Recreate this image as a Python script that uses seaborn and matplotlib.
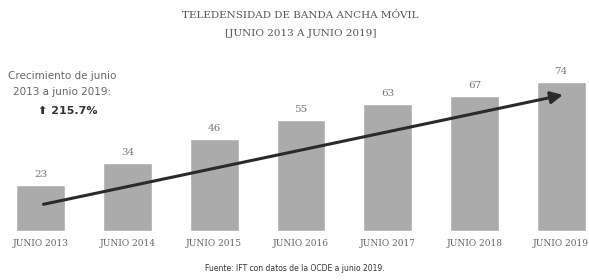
import pandas as pd
import numpy as np
import matplotlib
matplotlib.use("Agg")
import matplotlib.pyplot as plt
import seaborn as sns

# datos
periodos = ["JUNIO 2013", "JUNIO 2014", "JUNIO 2015", "JUNIO 2016",
            "JUNIO 2017", "JUNIO 2018", "JUNIO 2019"]
teledensidad = [23, 34, 46, 55, 63, 67, 74]
tendencia = [13, 68]  # inicio y fin de la flecha
crecimiento = "215.7%"


def main():
    df = pd.DataFrame({"periodo": periodos, "valor": teledensidad})

    sns.set_theme(style="white")
    plt.rcParams["font.family"] = ["DejaVu Sans"]

    fig = plt.figure(figsize=(5.89, 2.80), dpi=100)
    ax = fig.add_axes([0.0, 0.175, 1.0, 0.646])

    sns.barplot(data=df, x="periodo", y="valor", color="#ababab",
                saturation=1, width=0.56, ax=ax)

    ax.set_xlim(-0.47, 6.32)
    ax.set_ylim(0, 90)
    sns.despine(ax=ax, left=True, bottom=True)
    ax.set_yticks([])
    ax.set_xlabel("")
    ax.set_ylabel("")
    ax.tick_params(axis="x", length=0, pad=6, labelsize=6.5, labelcolor="#666666")
    for lbl in ax.get_xticklabels():
        lbl.set_family("DejaVu Serif")

    # etiquetas de valores
    for i, v in enumerate(teledensidad):
        ax.text(i, v + 3, str(v), ha="center", va="bottom",
                fontsize=7.5, color="#777777", family="DejaVu Serif")

    # flecha de tendencia
    ax.annotate("", xy=(6.05, tendencia[1]), xytext=(0, tendencia[0]),
                arrowprops=dict(arrowstyle="-|>,head_length=0.6,head_width=0.3",
                                color="#2a2a2a", lw=2.2))

    # textos
    fig.text(0.51, 0.945, "TELEDENSIDAD DE BANDA ANCHA MÓVIL",
             ha="center", va="center", fontsize=7.5, color="#555555",
             family="DejaVu Serif")
    fig.text(0.51, 0.88, "[JUNIO 2013 A JUNIO 2019]",
             ha="center", va="center", fontsize=7.5, color="#555555",
             family="DejaVu Serif")
    fig.text(0.105, 0.70, "Crecimiento de junio\n2013 a junio 2019:",
             ha="center", va="center", fontsize=7.5, color="#666666",
             linespacing=1.7)
    fig.text(0.115, 0.605, "⬆ " + crecimiento, ha="center", va="center",
             fontsize=8, color="#333333", fontweight="bold")
    fig.text(0.5, 0.04, "Fuente: IFT con datos de la OCDE a junio 2019.",
             ha="center", va="center", fontsize=5.5, color="#333333")

    plt.savefig("out.png", dpi=100)


if __name__ == "__main__":
    main()
